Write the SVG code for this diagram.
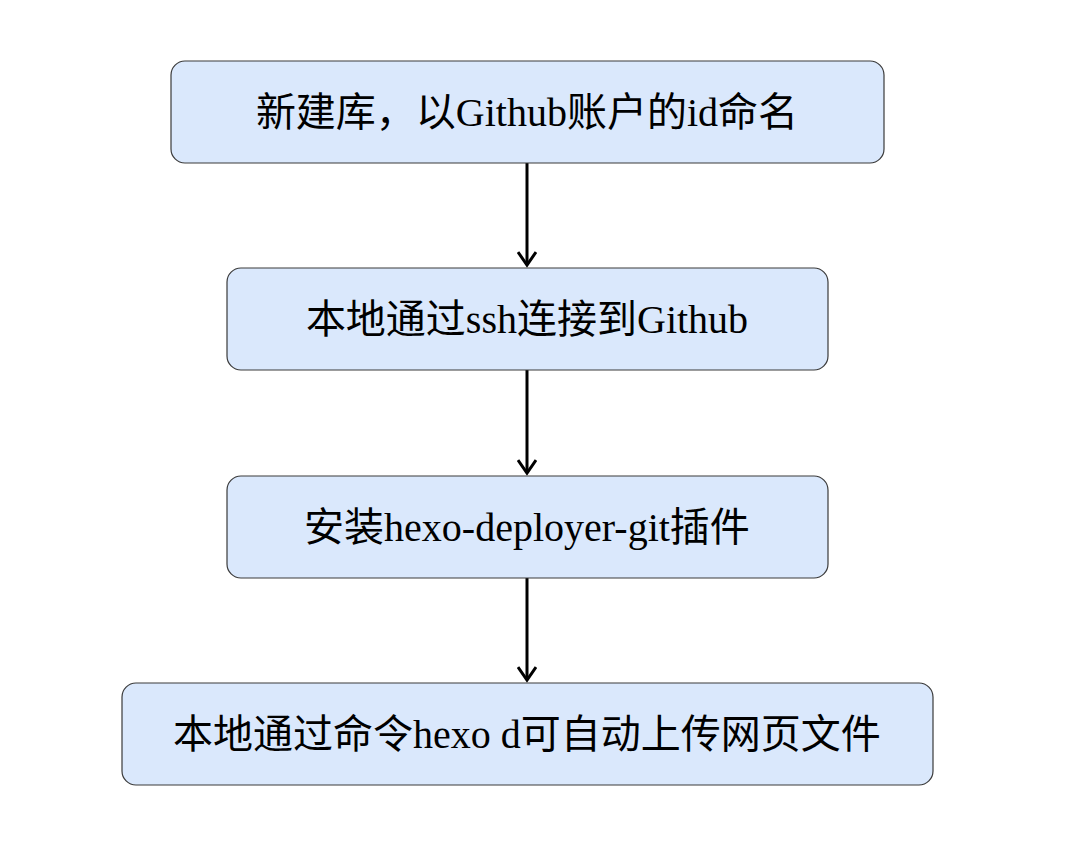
<svg xmlns="http://www.w3.org/2000/svg" width="1076" height="858" viewBox="0 0 1076 858">
<style>
.box{fill:#dae8fc;stroke:#3a3a3a;stroke-width:1.2}
.t{font-family:"Liberation Serif","Noto Sans CJK SC",serif;font-size:40px;fill:#000;text-anchor:middle;dominant-baseline:central}
.c{stroke:#000;stroke-width:3;fill:none}
</style>
<defs><marker id="a" markerWidth="18" markerHeight="20" refX="14" refY="10" orient="auto" markerUnits="userSpaceOnUse"><path d="M1,1 L14,10 L1,19" fill="none" stroke="#000" stroke-width="3"/></marker></defs>
<rect width="1076" height="858" fill="#fff"/>
<g id="connectors">
<line class="c" x1="527" y1="163" x2="527" y2="265" marker-end="url(#a)"/>
<line class="c" x1="527" y1="370" x2="527" y2="473" marker-end="url(#a)"/>
<line class="c" x1="527" y1="578" x2="527" y2="680" marker-end="url(#a)"/>
</g>
<g id="n1"><rect class="box" x="171" y="61" width="713" height="102" rx="14"/><text class="t" x="527" y="112">新建库，以Github账户的id命名</text></g>
<g id="n2"><rect class="box" x="227" y="268" width="601" height="102" rx="14"/><text class="t" x="527" y="319">本地通过ssh连接到Github</text></g>
<g id="n3"><rect class="box" x="227" y="476" width="601" height="102" rx="14"/><text class="t" x="527" y="527">安装hexo-deployer-git插件</text></g>
<g id="n4"><rect class="box" x="122" y="683" width="811" height="102" rx="14"/><text class="t" x="527" y="734">本地通过命令hexo d可自动上传网页文件</text></g>
</svg>
